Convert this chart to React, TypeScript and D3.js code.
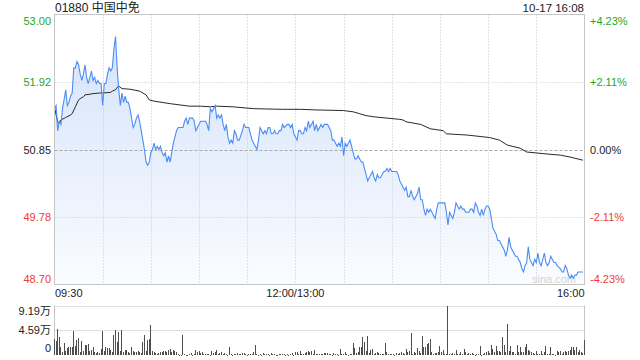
import React from 'react';
import * as d3 from 'd3';

const titleText = '01880 中国中免';
const stampText = '10-17 16:08';
const prevClose = 50.85;
const priceTicks = [53.0, 51.92, 50.85, 49.78, 48.7];
const pctLabels = ['+4.23%', '+2.11%', '0.00%', '-2.11%', '-4.23%'];
const timeLabels = ['09:30', '12:00/13:00', '16:00'];
const timeLabelMinutes = [0, 150, 330];
const gridMinutes = [30, 60, 90, 120, 150, 180, 210, 240, 270, 300];
const volTicks = [9.19, 4.59, 0];
const volTickLabels = ['9.19万', '4.59万', '0'];
const watermark = 'sina.com';

const priceMinutes = [
  0, 1, 2, 3, 4, 5, 7, 8, 9, 10, 11, 12, 13, 14, 15, 16, 17, 18, 19, 20, 21, 22, 23, 24, 25, 26, 27, 28, 29, 30,
  31, 32, 33, 34, 35, 36, 37, 38, 39, 40, 41, 42, 43, 44, 45, 46, 47, 48, 49, 50, 51, 52, 53, 54, 55, 56, 57, 58, 59, 60,
  61, 62, 63, 64, 65, 66, 67, 68, 69, 70, 71, 72, 73, 74, 75, 76, 77, 78, 79, 80, 81, 82, 83, 84, 85, 86, 87, 88, 89, 91,
  92, 93, 94, 95, 96, 97, 98, 99, 100, 101, 102, 103, 104, 105, 106, 107, 108, 109, 110, 111, 112, 113, 114, 115, 117, 118, 119, 120, 121, 122,
  123, 124, 125, 126, 127, 128, 129, 130, 131, 132, 133, 134, 135, 136, 137, 138, 139, 140, 141, 142, 143, 145, 146, 147, 148, 149, 150, 151, 152, 153,
  154, 155, 156, 157, 158, 159, 160, 161, 162, 163, 164, 165, 166, 167, 168, 169, 170, 171, 172, 173, 174, 175, 176, 177, 178, 179, 180, 181, 182, 183,
  184, 185, 186, 187, 188, 189, 190, 191, 192, 193, 194, 195, 196, 197, 198, 199, 200, 201, 202, 203, 204, 205, 206, 207, 208, 209, 210, 212, 213, 214,
  215, 216, 217, 218, 219, 220, 221, 222, 223, 224, 225, 226, 227, 228, 229, 230, 231, 232, 233, 234, 235, 236, 237, 238, 239, 241, 243, 244, 245, 246,
  247, 248, 249, 250, 251, 252, 253, 254, 255, 256, 257, 258, 259, 260, 261, 262, 263, 264, 265, 266, 267, 268, 269, 270, 271, 272, 273, 274, 275, 276,
  277, 278, 280, 281, 282, 283, 284, 285, 286, 287, 288, 289, 290, 291, 292, 293, 294, 295, 296, 297, 298, 299, 300, 301, 302, 303, 304, 305, 306, 307,
  308, 309, 310, 311, 312, 313, 315, 316, 317, 318, 319, 320, 321, 322, 323, 324, 325, 326, 327, 328, 329,
];
const prices = [
  51.5, 51.55, 51.15, 51.3, 51.25, 51.5, 51.8, 51.55, 51.6, 51.7, 51.75, 52.15, 52.15, 52.25, 52.2, 52.05, 51.95, 52.05, 52.2, 52.0, 51.9, 52.0, 52.1, 51.95, 52.0, 51.9, 51.95, 51.9, 51.9, 51.55,
  51.9, 51.9, 52.05, 52.15, 52.1, 52.15, 52.45, 52.65, 52.15, 51.8, 51.55, 51.75, 51.6, 51.7, 51.6, 51.6, 51.5, 51.35, 51.2, 51.25, 51.35, 51.4, 51.3, 51.15, 51.0, 50.85, 50.65, 50.6, 50.65, 50.8,
  50.85, 50.95, 50.85, 50.9, 50.85, 50.9, 50.8, 50.75, 50.8, 50.65, 50.75, 50.65, 50.8, 50.95, 51.05, 51.15, 51.2, 51.2, 51.2, 51.2, 51.3, 51.35, 51.25, 51.35, 51.35, 51.35, 51.3, 51.15, 51.2, 51.3,
  51.3, 51.3, 51.3, 51.25, 51.15, 51.5, 51.45, 51.5, 51.55, 51.35, 51.4, 51.35, 51.4, 51.25, 51.15, 51.25, 51.05, 50.95, 51.0, 50.95, 51.15, 51.1, 51.0, 51.0, 51.15, 51.25, 51.2, 51.2, 51.2, 51.1,
  51.0, 50.95, 50.9, 50.85, 51.0, 51.2, 51.15, 51.1, 51.15, 51.1, 51.2, 51.2, 51.1, 51.1, 51.15, 51.1, 51.1, 51.15, 51.15, 51.25, 51.2, 51.25, 51.25, 51.2, 51.25, 51.1, 51.05, 51.0, 51.15, 51.15,
  51.1, 51.1, 51.2, 51.15, 51.3, 51.2, 51.25, 51.3, 51.15, 51.25, 51.15, 51.2, 51.25, 51.2, 51.25, 51.25, 51.25, 51.2, 51.15, 51.0, 51.0, 50.95, 50.9, 50.95, 50.9, 51.05, 50.75, 50.95, 50.9, 50.95,
  51.0, 50.9, 50.8, 50.7, 50.7, 50.75, 50.7, 50.65, 50.65, 50.55, 50.45, 50.35, 50.4, 50.45, 50.5, 50.4, 50.35, 50.45, 50.4, 50.4, 50.45, 50.5, 50.5, 50.55, 50.5, 50.55, 50.5, 50.5, 50.5, 50.45,
  50.35, 50.3, 50.25, 50.2, 50.25, 50.1, 50.1, 50.2, 50.1, 50.05, 50.1, 50.15, 50.25, 50.05, 50.05, 49.9, 49.8, 49.9, 49.85, 49.9, 49.85, 49.8, 49.75, 49.9, 50.0, 50.0, 50.0, 49.85, 49.65, 49.85,
  49.8, 49.75, 49.85, 50.0, 49.95, 49.9, 49.95, 49.9, 49.9, 49.85, 49.85, 49.85, 49.9, 49.9, 49.85, 50.0, 49.95, 49.85, 49.8, 49.9, 49.8, 49.9, 49.95, 49.95, 49.9, 49.75, 49.6, 49.55, 49.5, 49.4,
  49.4, 49.35, 49.25, 49.15, 49.25, 49.45, 49.3, 49.25, 49.2, 49.15, 49.15, 49.1, 49.05, 48.95, 48.9, 49.0, 49.05, 49.3, 49.1, 49.05, 49.0, 49.1, 49.05, 49.2, 49.05, 49.0, 49.1, 49.2, 49.05, 49.0,
  49.05, 49.15, 49.1, 49.05, 49.05, 49.0, 48.95, 48.9, 48.9, 49.0, 48.95, 48.85, 48.8, 48.85, 48.8, 48.85, 48.85, 48.9, 48.9, 48.9, 48.9,
];

const avgMinutes = [
  0, 2, 3, 4, 7, 10, 11, 13, 15, 16, 18, 19, 22, 24, 28, 30, 35, 36, 38, 39, 40, 42, 47, 53, 57, 59, 62, 72, 84, 91,
  97, 101, 111, 124, 142, 153, 163, 180, 186, 190, 194, 199, 207, 215, 217, 219, 228, 234, 242, 244, 257, 271, 277, 282, 290, 294, 306, 315, 321, 329,
];
const avgPrices = [
  51.52, 51.29, 51.27, 51.32, 51.36, 51.4, 51.42, 51.53, 51.64, 51.66, 51.69, 51.72, 51.73, 51.74, 51.75, 51.75, 51.76, 51.78, 51.8, 51.84, 51.86, 51.82, 51.81, 51.78, 51.72, 51.64, 51.62, 51.58, 51.54, 51.54,
  51.53, 51.54, 51.53, 51.5, 51.49, 51.49, 51.48, 51.47, 51.45, 51.42, 51.39, 51.37, 51.35, 51.33, 51.32, 51.29, 51.25, 51.18, 51.15, 51.1, 51.08, 51.04, 51.0, 50.92, 50.87, 50.81, 50.78, 50.76, 50.73, 50.68,
];

// volume in 万 shares, one value per minute
const volMorning = [
  2.98, 2.55, 4.84, 3.42, 1.43, 0.5, 2.17, 0.81, 1.3, 1.43, 1.43, 1.43, 4.41, 1.74, 2.79, 3.11, 0.5, 2.55, 0.81, 1.86, 1.93, 2.05, 0.81, 0.93, 1.55, 0.5, 0.37, 0.5, 0.31, 1.12,
  4.53, 0.81, 1.43, 1.3, 1.24, 0.93, 0.5, 3.66, 4.66, 2.36, 4.22, 0.68, 4.72, 0.5, 0.93, 0.93, 0.5, 0.31, 1.43, 0.81, 0.5, 0.5, 0.81, 0.5, 0.37, 2.36, 3.66, 0.81, 2.86, 3.04,
  5.65, 0.68, 0.5, 0.43, 0.19, 0.31, 0.5, 0.5, 0.68, 0.68, 0.5, 0.93, 1.12, 0.5, 0.93, 0.68, 0.5, 0.19, 0.06, 0.06, 3.79, 0.19, 0.06, 0.06, 0.19, 0.37, 0.06, 0.19, 0.93, 0.5,
  0.81, 0.31, 0.5, 0.19, 0.19, 0.19, 0.19, 0.06, 0.68, 0.31, 0.5, 0.93, 0.19, 0.31, 0.5, 0.19, 0.31, 0.19, 0.06, 1.43,
];
const volMidday = [
  0.19, 0.06, 0.19, 0.19, 0.31, 0.19, 0.19, 0.31, 0.31, 0.19, 0.06, 0.19, 0.19, 0.19, 0.62, 1.93, 0.19, 0.06, 0.19, 0.06, 0.31, 0.19, 0.19, 0.19, 0.06, 0.31, 0.19, 0.19, 0.06, 0.06,
  0.19, 0.19, 0.19, 0.19, 0.06, 0.19, 0.06, 0.19, 0.31, 0.06, 0.5, 0.5, 0.19, 0.81, 0.19, 0.19, 0.31, 0.5, 0.81, 0.5, 0.68, 0.19, 0.93, 0.19, 0.19, 0.19, 0.19, 0.19, 0.31, 0.37,
  0.37, 0.19, 0.19, 0.06, 0.31, 0.19, 0.19, 0.06, 1.12, 0.19, 0.19, 0.5, 0.19, 0.06, 0.19, 0.19, 2.24, 1.3, 0.31, 0.5, 1.43, 1.55, 3.42, 2.48, 0.68, 3.6, 0.31, 0.93, 1.12, 0.19,
  0.31, 0.5, 0.37, 0.19, 0.19, 0.19, 2.24, 0.62, 0.19, 0.19, 0.19, 0.19, 0.06, 0.31, 0.19, 0.37, 0.5, 0.31, 0.19, 1.12, 0.5, 0.68,
];
const volAfternoon = [
  4.04, 0.19, 0.5, 0.31, 1.3, 0.68, 0.37, 3.6, 1.43, 1.43, 2.05, 2.17, 2.98, 0.5, 0.19, 0.37, 0.31, 0.5, 1.74, 0.5, 0.93, 0.19, 0.19, 9.19, 0.19, 0.19, 0.31, 0.19, 0.93, 0.19,
  0.19, 0.5, 0.19, 1.12, 0.5, 0.19, 0.31, 0.19, 0.31, 0.19, 0.06, 0.19, 0.19, 1.74, 0.06, 0.19, 0.31, 0.5, 0.68, 0.31, 1.93, 1.12, 0.5, 1.74, 0.81, 0.81, 0.5, 3.42, 1.93, 0.5,
  5.77, 0.68, 1.74, 0.5, 0.5, 0.19, 1.93, 0.5, 1.55, 0.5, 0.5, 1.55, 2.05, 0.93, 0.68, 0.5, 0.31, 0.19, 0.68, 0.19, 0.19, 0.68, 0.19, 0.5, 1.74, 0.19, 0.19, 1.55, 0.19, 0.19,
  0.06, 0.68, 0.5, 0.68, 0.19, 0.5, 0.68, 0.5, 0.81, 0.93, 1.55, 1.55, 0.93, 1.55, 0.5, 0.93, 0.5, 0.31, 2.86,
];
const volumes = [...volMorning, ...volMidday, ...volAfternoon];

const W = 640;
const H = 360;
const L = 54.5;
const R = 584.5;
const T = 14.5;
const B = 284.5;
const VT = 305.5;
const VB = 355;
const FONT = "'Liberation Sans', Arial, 'Noto Sans CJK SC', sans-serif";
const GREEN = '#1fa71f';
const RED = '#f03a3a';
const DARK = '#222';

export default function App() {
  const x = d3.scaleLinear().domain([0, 330]).range([L, R]);
  const y = d3.scaleLinear().domain([48.7, 53.0]).range([B, T]);
  const yv = d3.scaleLinear().domain([0, 9.19]).range([VB, VT]);

  const pts = priceMinutes.map((m, i) => ({ m, p: prices[i] }));
  const avgPts = avgMinutes.map((m, i) => ({ m, p: avgPrices[i] }));

  const line = d3.line<{ m: number; p: number }>().x((d) => x(d.m)).y((d) => y(d.p));
  const area = d3
    .area<{ m: number; p: number }>()
    .x((d) => x(d.m))
    .y0(B)
    .y1((d) => y(d.p));

  const colorFor = (v: number) => (v > prevClose + 1e-6 ? GREEN : v < prevClose - 1e-6 ? RED : DARK);
  const labelDy = (i: number) => (i === 0 ? 10 : i === priceTicks.length - 1 ? -2 : 4);

  return (
    <svg
      width={W}
      height={H}
      style={{ position: 'absolute', left: 0, top: 0, background: '#fff' }}
      fontFamily={FONT}
    >
      <defs>
        <linearGradient id="pfill" gradientUnits="userSpaceOnUse" x1={0} y1={T} x2={0} y2={B}>
          <stop offset="0%" stopColor="#d2e1fa" />
          <stop offset="100%" stopColor="#fafcff" />
        </linearGradient>
      </defs>

      {/* title */}
      <text x={55} y={12} fontSize={12} fill={DARK}>
        {titleText}
      </text>
      <text x={584} y={12} fontSize={11.5} fill={DARK} textAnchor="end">
        {stampText}
      </text>

      {/* area + watermark */}
      <path d={area(pts) || ''} fill="url(#pfill)" />
      <text x={532} y={283} fontSize={11} fill="#d4d4d4">
        {watermark}
      </text>

      {/* grid */}
      {gridMinutes.map((m) => (
        <line
          key={'gv' + m}
          x1={Math.round(x(m)) + 0.5}
          x2={Math.round(x(m)) + 0.5}
          y1={T}
          y2={B}
          stroke="#c8c8c8"
          strokeDasharray="1,2"
        />
      ))}
      {priceTicks.slice(1, -1).map((p) => (
        <line
          key={'gh' + p}
          x1={L}
          x2={R}
          y1={Math.round(y(p)) + 0.5}
          y2={Math.round(y(p)) + 0.5}
          stroke={p === prevClose ? '#a8a8a8' : '#c8c8c8'}
          strokeDasharray={p === prevClose ? '3,2' : '1,2'}
        />
      ))}

      {/* lines */}
      <path d={line(avgPts) || ''} fill="none" stroke="#2a2a2a" strokeWidth={1} />
      <path d={line(pts) || ''} fill="none" stroke="#4c8cf5" strokeWidth={1.1} />

      {/* frame */}
      <rect x={L} y={T} width={R - L} height={B - T} fill="none" stroke="#c6c6c6" />

      {/* price labels */}
      {priceTicks.map((p, i) => (
        <text
          key={'pl' + i}
          x={51}
          y={y(p) + labelDy(i)}
          fontSize={11}
          textAnchor="end"
          fill={colorFor(p)}
        >
          {p.toFixed(2)}
        </text>
      ))}
      {pctLabels.map((s, i) => (
        <text
          key={'pc' + i}
          x={590}
          y={y(priceTicks[i]) + labelDy(i)}
          fontSize={11}
          textAnchor="start"
          fill={colorFor(priceTicks[i])}
        >
          {s}
        </text>
      ))}

      {/* time labels */}
      {timeLabels.map((s, i) => (
        <text
          key={'tl' + i}
          x={i === 0 ? L + 0.5 : i === timeLabels.length - 1 ? R : x(timeLabelMinutes[i])}
          y={297}
          fontSize={11}
          fill={DARK}
          textAnchor={i === 0 ? 'start' : i === timeLabels.length - 1 ? 'end' : 'middle'}
        >
          {s}
        </text>
      ))}

      {/* volume panel */}
      {volTicks.slice(0, 2).map((v) => (
        <line
          key={'vg' + v}
          x1={L}
          x2={R}
          y1={Math.round(yv(v)) + 0.5}
          y2={Math.round(yv(v)) + 0.5}
          stroke="#bdbdbd"
          strokeDasharray="1,1"
        />
      ))}
      <line x1={L} x2={L} y1={VT} y2={VB} stroke="#c6c6c6" />
      <line x1={R} x2={R} y1={VT} y2={VB} stroke="#c6c6c6" />
      <g shapeRendering="crispEdges">
        {volumes.map((v, i) => {
          const top = yv(v);
          return (
            <rect
              key={'vb' + i}
              x={Math.floor(x(i))}
              y={top}
              width={1}
              height={Math.max(1, VB - top)}
              fill="#4e4e4e"
            />
          );
        })}
      </g>
      {volTickLabels.map((s, i) => (
        <text
          key={'vl' + i}
          x={51}
          y={i === 0 ? 315 : i === 1 ? 334 : 352}
          fontSize={11}
          textAnchor="end"
          fill={DARK}
        >
          {s}
        </text>
      ))}
    </svg>
  );
}
